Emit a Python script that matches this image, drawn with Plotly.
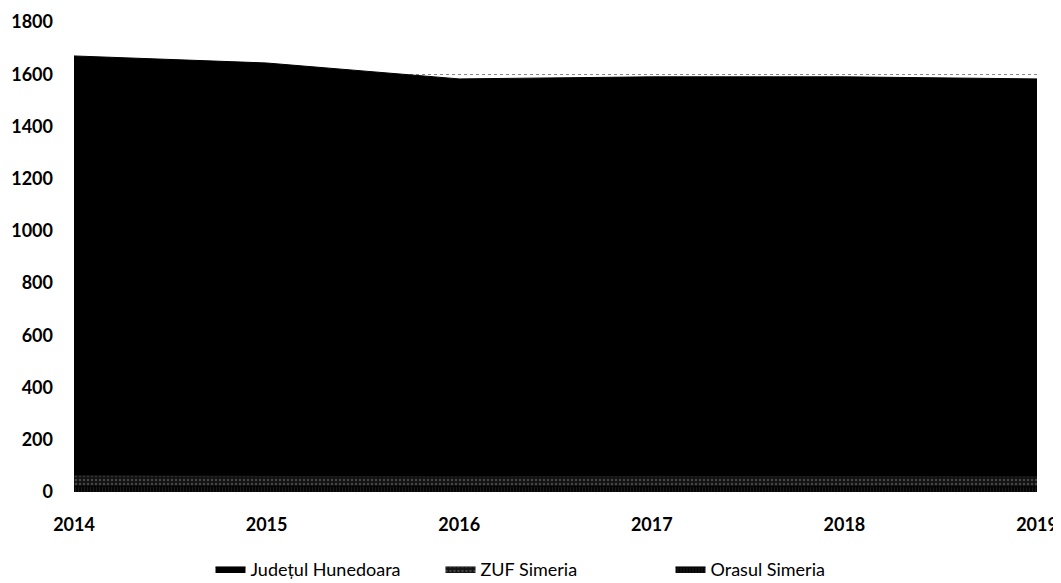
import plotly.graph_objects as go

years = [2014, 2015, 2016, 2017, 2018, 2019]
judetul_hunedoara = [1670, 1643, 1582, 1590, 1590, 1582]
zuf_simeria = [62, 60, 58, 60, 60, 58]
orasul_simeria = [22, 21, 20, 21, 21, 20]

fig = go.Figure()
fig.add_trace(go.Scatter(
    x=years, y=judetul_hunedoara, name="Județul Hunedoara",
    mode="lines", fill="tozeroy", line=dict(color="#000000", width=1),
    fillcolor="#000000"))
fig.add_trace(go.Scatter(
    x=years, y=zuf_simeria, name="ZUF Simeria",
    mode="lines", fill="tozeroy", line=dict(color="#1a1a1a", width=1),
    fillcolor="#111111",
    fillpattern=dict(shape=".", fgcolor="#777777", bgcolor="#111111", size=4, solidity=0.3)))
fig.add_trace(go.Scatter(
    x=years, y=orasul_simeria, name="Orasul Simeria",
    mode="lines", fill="tozeroy", line=dict(color="#000000", width=1),
    fillcolor="#050505",
    fillpattern=dict(shape="|", fgcolor="#444444", bgcolor="#050505", size=3, solidity=0.2)))

fig.update_layout(
    width=1061, height=583,
    margin=dict(l=66, r=32, t=14, b=99, autoexpand=False),
    paper_bgcolor="white", plot_bgcolor="white",
    font=dict(family="Lato, Open Sans, sans-serif", color="#000000", size=17),
    showlegend=True,
    legend=dict(orientation="h", x=0.5, xanchor="center", y=-0.125, yanchor="top",
                font=dict(size=18), traceorder="normal", itemwidth=30,
                entrywidth=185, entrywidthmode="pixels"),
    xaxis=dict(range=[2014, 2019], tickvals=years, ticktext=[str(y) for y in years],
               showgrid=False, zeroline=False, showline=False, automargin=False,
               tickfont=dict(size=18, family="Lato, sans-serif", weight="bold"),
               ticklabelstandoff=20, ticklabeloverflow="allow"),
    yaxis=dict(range=[0, 1800], dtick=200, showgrid=True, gridcolor="#888888",
               griddash="dot", gridwidth=1, zeroline=False, showline=False,
               automargin=False,
               tickfont=dict(size=18, family="Lato, sans-serif", weight="bold"),
               ticks="", ticklabelstandoff=20),
)

fig.write_html("out.html")
